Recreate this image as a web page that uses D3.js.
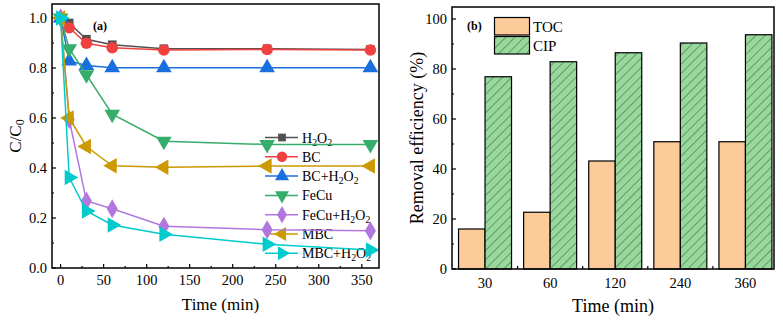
<!DOCTYPE html>
<html>
<head>
<meta charset="utf-8">
<script src="https://cdn.jsdelivr.net/npm/d3@7"></script>
<style>
  body { margin: 0; background: #fff; }
</style>
</head>
<body>
<div id="chart"></div>
<script>
// panel (a) data
let times = [0, 10, 30, 60, 120, 240, 360];
let seriesNames = ["H2O2", "BC", "BC+H2O2", "FeCu", "FeCu+H2O2", "MBC", "MBC+H2O2"];
let h2o2 = [1.0, 0.98, 0.915, 0.893, 0.877, 0.877, 0.874];
let bc = [1.0, 0.961, 0.899, 0.881, 0.872, 0.874, 0.872];
let bcH2o2 = [1.0, 0.828, 0.81, 0.801, 0.801, 0.801, 0.801];
let fecu = [1.0, 0.877, 0.773, 0.615, 0.507, 0.494, 0.494];
let fecuH2o2 = [1.0, 0.594, 0.268, 0.237, 0.167, 0.153, 0.149];
let mbc = [1.0, 0.6, 0.486, 0.409, 0.403, 0.408, 0.408];
let mbcH2o2 = [1.0, 0.362, 0.228, 0.172, 0.135, 0.095, 0.072];
let xTicksA = [0, 50, 100, 150, 200, 250, 300, 350];
let yTicksA = [0, 0.2, 0.4, 0.6, 0.8, 1.0];

// panel (b) data
let barTimes = ["30", "60", "120", "240", "360"];
let toc = [16, 22.7, 43.2, 50.9, 50.9];
let cip = [76.9, 82.9, 86.5, 90.4, 93.7];
let yTicksB = [0, 20, 40, 60, 80, 100];

let width = 783, height = 322;
let svg = d3.select("#chart").append("svg")
    .attr("width", width)
    .attr("height", height)
    .attr("font-family", "'Liberation Serif', 'DejaVu Serif', serif");

let colors = ["#515151", "#F14040", "#1A6FDF", "#37AD6B", "#B177DE", "#CC9900", "#00CBCC"];
let symbols = [d3.symbolSquare, d3.symbolCircle, d3.symbolTriangle, d3.symbolTriangle,
               d3.symbolDiamond, d3.symbolTriangle, d3.symbolTriangle];
let symSizes = [60, 85, 85, 85, 85, 85, 85];
let rotations = [0, 0, 0, 180, 0, -90, 90];
let allSeries = [h2o2, bc, bcH2o2, fecu, fecuH2o2, mbc, mbcH2o2];

// writes "H2O2" style names with subscript digits
function chemText(sel, name, size) {
  let parts = name.split(/(\d)/);
  parts.forEach(function(p) {
    if (p === "") return;
    if (/\d/.test(p)) {
      sel.append("tspan").attr("font-size", size * 0.7).attr("baseline-shift", "-25%").text(p);
    } else {
      sel.append("tspan").attr("font-size", size).text(p);
    }
  });
}

// ---------- Panel (a) ----------
let a = {left: 52, right: 379, top: 4, bottom: 268};
let xA = d3.scaleLinear().domain([-10, 370]).range([a.left, a.right]);
let yA = d3.scaleLinear().domain([0, 1.056]).range([a.bottom, a.top]);

let gA = svg.append("g");

// ticks (inward)
let minorX = d3.range(25, 375, 50);
gA.selectAll(".xmaj").data(xTicksA).enter().append("line")
    .attr("x1", d => xA(d)).attr("x2", d => xA(d))
    .attr("y1", a.bottom).attr("y2", a.bottom - 4)
    .attr("stroke", "#000").attr("stroke-width", 1.2);
gA.selectAll(".xmin").data(minorX).enter().append("line")
    .attr("x1", d => xA(d)).attr("x2", d => xA(d))
    .attr("y1", a.bottom).attr("y2", a.bottom - 2)
    .attr("stroke", "#000").attr("stroke-width", 1.2);
gA.selectAll(".xlab").data(xTicksA).enter().append("text")
    .attr("x", d => xA(d)).attr("y", a.bottom + 17)
    .attr("text-anchor", "middle").attr("font-size", 14.5)
    .text(d => d);

let minorY = [0.1, 0.3, 0.5, 0.7, 0.9];
gA.selectAll(".ymaj").data(yTicksA).enter().append("line")
    .attr("x1", a.left).attr("x2", a.left + 4)
    .attr("y1", d => yA(d)).attr("y2", d => yA(d))
    .attr("stroke", "#000").attr("stroke-width", 1.2);
gA.selectAll(".ymin").data(minorY).enter().append("line")
    .attr("x1", a.left).attr("x2", a.left + 2)
    .attr("y1", d => yA(d)).attr("y2", d => yA(d))
    .attr("stroke", "#000").attr("stroke-width", 1.2);
gA.selectAll(".ylab").data(yTicksA).enter().append("text")
    .attr("x", a.left - 5).attr("y", d => yA(d) + 5)
    .attr("text-anchor", "end").attr("font-size", 14.5)
    .text(d => d.toFixed(1));

// legend (a)
let legA = gA.append("g");
seriesNames.forEach(function(name, i) {
  let ly = 137.5 + i * 19.3;
  legA.append("line").attr("x1", 265).attr("x2", 298).attr("y1", ly).attr("y2", ly)
      .attr("stroke", colors[i]).attr("stroke-width", 1.5);
  legA.append("path")
      .attr("d", d3.symbol().type(symbols[i]).size(symSizes[i]))
      .attr("transform", "translate(282," + ly + ") rotate(" + rotations[i] + ")")
      .attr("fill", colors[i]);
  let t = legA.append("text").attr("x", 302).attr("y", ly + 5);
  chemText(t, name, 14);
});

// lines and markers
let line = d3.line().x((d, i) => xA(times[i])).y(d => yA(d));
allSeries.forEach(function(vals, i) {
  gA.append("path").datum(vals)
      .attr("d", line)
      .attr("fill", "none")
      .attr("stroke", colors[i])
      .attr("stroke-width", 1.5);
  gA.selectAll(".m" + i).data(vals).enter().append("path")
      .attr("d", d3.symbol().type(symbols[i]).size(symSizes[i] * 1.25))
      .attr("transform", (d, j) => "translate(" + xA(times[j]) + "," + yA(d) + ") rotate(" + rotations[i] + ")")
      .attr("fill", colors[i]);
});

gA.append("rect")
    .attr("x", a.left).attr("y", a.top)
    .attr("width", a.right - a.left).attr("height", a.bottom - a.top)
    .attr("fill", "none").attr("stroke", "#000").attr("stroke-width", 1.5);

gA.append("text").attr("x", 93).attr("y", 30)
    .attr("font-size", 12).attr("font-weight", "bold").text("(a)");

gA.append("text").attr("x", a.left + (a.right - a.left) / 2 + 5).attr("y", 310)
    .attr("text-anchor", "middle").attr("font-size", 17).text("Time (min)");

let yLabA = gA.append("text")
    .attr("transform", "translate(21," + (a.top + a.bottom) / 2 + ") rotate(-90)")
    .attr("text-anchor", "middle");
yLabA.append("tspan").attr("font-size", 17).text("C/C");
yLabA.append("tspan").attr("font-size", 12).attr("baseline-shift", "-25%").text("0");

// ---------- Panel (b) ----------
let b = {left: 452, right: 774, top: 7, bottom: 269};
let xB = d3.scaleBand().domain(barTimes).range([b.left, b.right])
    .paddingInner(0.186).paddingOuter(0.066).align(0.76);
let xSub = d3.scaleBand().domain(["TOC", "CIP"]).range([0, xB.bandwidth()]);
let yB = d3.scaleLinear().domain([0, 104.8]).range([b.bottom, b.top]);

let defs = svg.append("defs");
let pat = defs.append("pattern").attr("id", "hatch")
    .attr("patternUnits", "userSpaceOnUse")
    .attr("width", 6.5).attr("height", 6.5)
    .attr("patternTransform", "rotate(45)");
pat.append("rect").attr("width", 6.5).attr("height", 6.5).attr("fill", "#98D89C");
pat.append("line").attr("x1", 0.5).attr("x2", 0.5).attr("y1", 0).attr("y2", 6.5)
    .attr("stroke", "#4f7f52").attr("stroke-width", 0.7);

let gB = svg.append("g");

// y ticks
let minorYB = d3.range(10, 105, 20);
gB.selectAll(".ymaj").data(yTicksB).enter().append("line")
    .attr("x1", b.left).attr("x2", b.left + 4)
    .attr("y1", d => yB(d)).attr("y2", d => yB(d))
    .attr("stroke", "#000").attr("stroke-width", 1.2);
gB.selectAll(".ymin").data(minorYB).enter().append("line")
    .attr("x1", b.left).attr("x2", b.left + 2)
    .attr("y1", d => yB(d)).attr("y2", d => yB(d))
    .attr("stroke", "#000").attr("stroke-width", 1.2);
gB.selectAll(".ylab").data(yTicksB).enter().append("text")
    .attr("x", b.left - 5).attr("y", d => yB(d) + 5)
    .attr("text-anchor", "end").attr("font-size", 14.5)
    .text(d => d);

// x minor ticks between groups
let bounds = barTimes.slice(1).map(d => xB(d) - xB.step() * xB.paddingInner() / 2);
gB.selectAll(".xmin").data(bounds).enter().append("line")
    .attr("x1", d => d).attr("x2", d => d)
    .attr("y1", b.bottom).attr("y2", b.bottom - 3)
    .attr("stroke", "#000").attr("stroke-width", 1.2);
gB.selectAll(".xlab").data(barTimes).enter().append("text")
    .attr("x", d => xB(d) + xB.bandwidth() / 2).attr("y", b.bottom + 19)
    .attr("text-anchor", "middle").attr("font-size", 14.5)
    .text(d => d);

// bars
gB.selectAll(".toc").data(toc).enter().append("rect")
    .attr("x", (d, i) => xB(barTimes[i]) + xSub("TOC"))
    .attr("y", d => yB(d))
    .attr("width", xSub.bandwidth())
    .attr("height", d => yB(0) - yB(d))
    .attr("fill", "#FDCA9A").attr("stroke", "#000").attr("stroke-width", 1.2);
gB.selectAll(".cip").data(cip).enter().append("rect")
    .attr("x", (d, i) => xB(barTimes[i]) + xSub("CIP"))
    .attr("y", d => yB(d))
    .attr("width", xSub.bandwidth())
    .attr("height", d => yB(0) - yB(d))
    .attr("fill", "url(#hatch)").attr("stroke", "#000").attr("stroke-width", 1.2);

// legend (b)
let legB = [["TOC", "#FDCA9A"], ["CIP", "url(#hatch)"]];
legB.forEach(function(l, i) {
  let ly = 17.5 + i * 19;
  gB.append("rect").attr("x", 494.5).attr("y", ly).attr("width", 35).attr("height", 17.5)
      .attr("fill", l[1]).attr("stroke", "#000").attr("stroke-width", 1.2);
  gB.append("text").attr("x", 533).attr("y", ly + 14).attr("font-size", 15).text(l[0]);
});

gB.append("rect")
    .attr("x", b.left).attr("y", b.top)
    .attr("width", b.right - b.left).attr("height", b.bottom - b.top)
    .attr("fill", "none").attr("stroke", "#000").attr("stroke-width", 1.5);

gB.append("text").attr("x", 467).attr("y", 30)
    .attr("font-size", 12).attr("font-weight", "bold").text("(b)");

gB.append("text").attr("x", (b.left + b.right) / 2).attr("y", 312)
    .attr("text-anchor", "middle").attr("font-size", 18).text("Time (min)");

gB.append("text")
    .attr("transform", "translate(423," + (b.top + b.bottom) / 2 + ") rotate(-90)")
    .attr("text-anchor", "middle").attr("font-size", 18)
    .text("Removal efficiency (%)");
</script>
</body>
</html>
